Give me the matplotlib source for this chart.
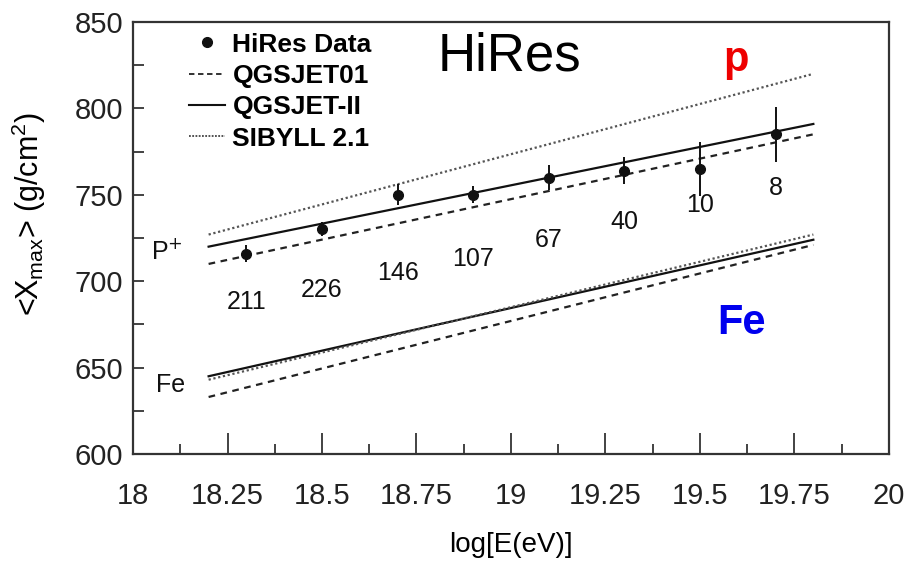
import numpy as np
import matplotlib
matplotlib.use("Agg")
import matplotlib.pyplot as plt
from matplotlib.lines import Line2D

# HiRes data points
log_e = [18.3, 18.5, 18.7, 18.9, 19.1, 19.3, 19.5, 19.7]
xmax = [716, 730, 750, 750, 760, 764, 765, 785]
xmax_err = [5, 4, 6, 5, 7, 8, 15.5, 16]
n_events = ["211", "226", "146", "107", "67", "40", "10", "8"]
label_y = [688, 695, 705, 713, 724, 734, 744, 754]

# model predictions, given at the two ends of the energy range
e_ends = [18.2, 19.8]
qgs01_p = [710, 785]
qgs2_p = [720, 791]
sib_p = [727, 820]
qgs01_fe = [633, 721]
qgs2_fe = [645, 724]
sib_fe = [643, 727]

plt.rcParams["font.family"] = ["Liberation Sans", "DejaVu Sans"]

fig = plt.figure(figsize=(9.08, 5.64), dpi=100)
ax = fig.add_axes([0.1465, 0.195, 0.8325, 0.766])

dash = (0, (3, 2.5))
dot = (0, (1, 1.2))
lw = 1.6

ax.plot(e_ends, qgs01_p, color="#222222", lw=lw, linestyle=dash)
ax.plot(e_ends, qgs2_p, color="#111111", lw=lw)
ax.plot(e_ends, sib_p, color="#555555", lw=lw, linestyle=dot)
ax.plot(e_ends, qgs01_fe, color="#222222", lw=lw, linestyle=dash)
ax.plot(e_ends, qgs2_fe, color="#111111", lw=lw)
ax.plot(e_ends, sib_fe, color="#555555", lw=lw, linestyle=dot)

ax.errorbar(log_e, xmax, yerr=xmax_err, fmt="o", color="#111111",
            markersize=7, elinewidth=1.4, capsize=0)

for x, y, t in zip(log_e, label_y, n_events):
    ax.text(x, y, t, ha="center", va="center", fontsize=18, color="#111111")

ax.text(18.09, 717, "P$^{+}$", ha="center", va="center", fontsize=18, color="#111111")
ax.text(18.1, 640, "Fe", ha="center", va="center", fontsize=18, color="#111111")

ax.text(18.995, 830, "HiRes", ha="center", va="center", fontsize=38, color="black")
ax.text(19.595, 828, "p", ha="center", va="center", fontsize=30,
        fontweight="bold", color="#ee0000")
ax.text(19.61, 676, "Fe", ha="center", va="center", fontsize=30,
        fontweight="bold", color="#0000ee")

handles = [
    Line2D([], [], marker="o", linestyle="none", color="#111111", markersize=7),
    Line2D([], [], color="#222222", lw=1.3, linestyle=(0, (3, 2))),
    Line2D([], [], color="#111111", lw=1.5),
    Line2D([], [], color="#444444", lw=1.3, linestyle=(0, (1, 0.8))),
]
labels = ["HiRes Data", "QGSJET01", "QGSJET-II", "SIBYLL 2.1"]
ax.legend(handles, labels, loc="upper left", bbox_to_anchor=(0.06, 1.0),
          frameon=False, handlelength=1.35, handletextpad=0.3,
          labelspacing=0.28, borderaxespad=0,
          prop={"weight": "bold", "size": 19})

ax.set_xlim(18, 20)
ax.set_ylim(600, 850)
ax.set_xticks(np.arange(18, 20.01, 0.25))
ax.set_xticklabels(["18", "18.25", "18.5", "18.75", "19", "19.25", "19.5", "19.75", "20"])
ax.set_xticks(np.arange(18.125, 20, 0.25), minor=True)
ax.set_yticks(np.arange(600, 851, 50))
ax.set_yticks(np.arange(625, 850, 50), minor=True)

ax.tick_params(axis="both", which="both", direction="in", labelsize=21,
               colors="#222222", width=1.2, top=False, right=False)
ax.tick_params(axis="x", which="major", length=15, pad=20)
ax.tick_params(axis="x", which="minor", length=7)
ax.tick_params(axis="y", which="major", length=8, pad=7)
ax.tick_params(axis="y", which="minor", length=8)
for s in ax.spines.values():
    s.set_linewidth(1.6)
    s.set_color("#333333")

ax.set_xlabel("log[E(eV)]", fontsize=20, labelpad=16)
ax.set_ylabel("<X$_{\\mathregular{max}}$> (g/cm$^{\\mathregular{2}}$)", fontsize=22)
ax.yaxis.set_label_coords(-0.112, 0.555)

fig.savefig("out.png", dpi=100)
